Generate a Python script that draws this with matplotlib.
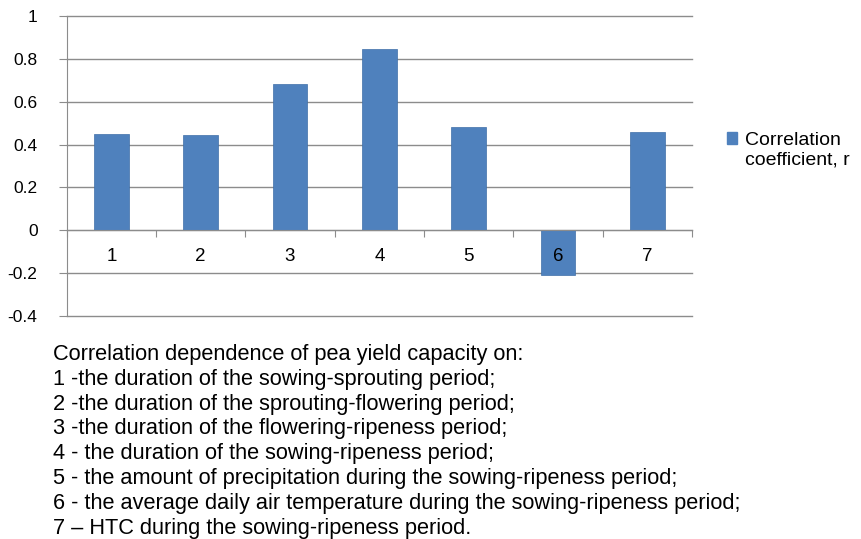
import matplotlib
matplotlib.use('agg')
import matplotlib.pyplot as plt
from matplotlib.legend_handler import HandlerPatch
import numpy as np

categories = ['1', '2', '3', '4', '5', '6', '7']
corr_r = [0.45, 0.447, 0.682, 0.846, 0.483, -0.21, 0.459]
y_ticks = [-0.4, -0.2, 0, 0.2, 0.4, 0.6, 0.8, 1]
y_labels = ['-0.4', '-0.2', '0', '0.2', '0.4', '0.6', '0.8', '1']
legend_label = 'Correlation\ncoefficient, r'
caption = [
    'Correlation dependence of pea yield capacity on:',
    '1 -the duration of the sowing-sprouting period;',
    '2 -the duration of the sprouting-flowering period;',
    '3 -the duration of the flowering-ripeness period;',
    '4 - the duration of the sowing-ripeness period;',
    '5 - the amount of precipitation during the sowing-ripeness period;',
    '6 - the average daily air temperature during the sowing-ripeness period;',
    '7 \u2013 HTC during the sowing-ripeness period.',
]

plt.rcParams['font.family'] = ['Liberation Sans', 'DejaVu Sans']
grid_c = '#8c8c8c'
bar_c = '#4f81bd'

fig = plt.figure(figsize=(8.62, 5.39), dpi=100)
rect = [66.7 / 862, 1 - 316 / 539, (692 - 66.7) / 862, 300 / 539]
ax = fig.add_axes(rect)

x = np.arange(len(categories))
xlim = (-0.5, len(categories) - 0.5)
ylim = (-0.4, 1.0)
ax.bar(x, corr_r, width=0.39, color=bar_c, edgecolor='#3f6fa8', linewidth=0.5, zorder=3)

ax.set_xlim(*xlim)
ax.set_ylim(*ylim)
ax.set_yticks(y_ticks)
ax.set_yticklabels(y_labels, fontsize=12.5)
ax.yaxis.grid(True, color=grid_c, linewidth=1.0, zorder=0)
for gl in ax.get_ygridlines():
    gl.set_clip_on(False)
ax.tick_params(axis='y', length=5.5, color=grid_c, pad=15.5)
ax.tick_params(axis='x', bottom=False, labelbottom=False)
for s in ['top', 'right', 'bottom']:
    ax.spines[s].set_visible(False)
ax.spines['left'].set_color(grid_c)

# overlay axes: zero line with category labels drawn above the bars
ax2 = fig.add_axes(rect)
ax2.set_xlim(*xlim)
ax2.set_ylim(*ylim)
ax2.patch.set_visible(False)
for s in ['top', 'right', 'left']:
    ax2.spines[s].set_visible(False)
ax2.spines['bottom'].set_position(('data', 0))
ax2.spines['bottom'].set_color(grid_c)
ax2.tick_params(axis='y', left=False, labelleft=False)
ax2.set_xticks(np.arange(-0.5, len(categories), 1.0))
ax2.set_xticklabels([])
ax2.set_xticks(x, minor=True)
ax2.set_xticklabels(categories, minor=True, fontsize=13.5)
ax2.tick_params(axis='x', which='major', length=5, color=grid_c, direction='out')
ax2.tick_params(axis='x', which='minor', length=0, pad=13)


def top_square(legend, orig_handle, xdescent, ydescent, width, height, fontsize):
    return plt.Rectangle((-xdescent, -ydescent + 0.6 * fontsize), width, height)


fig.legend([plt.Rectangle((0, 0), 1, 1, color=bar_c)], [legend_label],
           loc='center left', bbox_to_anchor=(727 / 862, 1 - 150 / 539), frameon=False,
           fontsize=14, handlelength=0.52, handleheight=0.55,
           handletextpad=0.4, borderaxespad=0, borderpad=0,
           handler_map={plt.Rectangle: HandlerPatch(patch_func=top_square)})

for i, line in enumerate(caption):
    fig.text(53 / 862, 1 - (360 + 24.8 * i) / 539, line, fontsize=15.7,
             va='baseline', ha='left')

plt.savefig('out.png', dpi=100, facecolor='white')
plt.close('all')
